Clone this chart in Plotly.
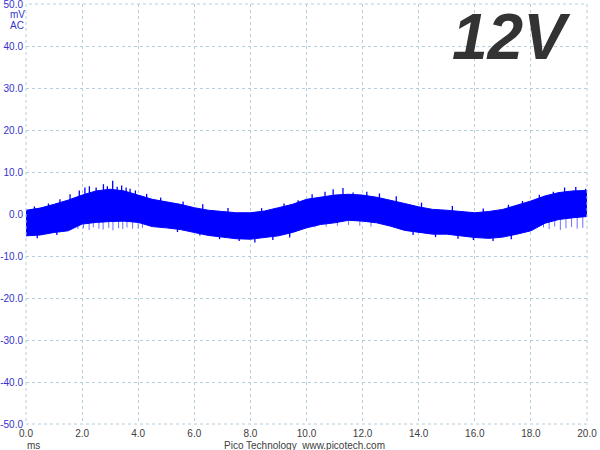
import plotly.graph_objects as go

# time axis (ms) of envelope samples
time_ms = [0.0, 0.5, 1.0, 1.5, 2.0, 2.5, 3.0, 3.5, 4.0, 4.5, 5.0, 5.5, 6.0, 6.5, 7.0, 7.5,
           8.0, 8.5, 9.0, 9.5, 10.0, 10.5, 11.0, 11.5, 12.0, 12.5, 13.0, 13.5, 14.0, 14.5,
           15.0, 15.5, 16.0, 16.5, 17.0, 17.5, 18.0, 18.5, 19.0, 19.5, 20.0]
# upper and lower envelope of the dense (solid) part of the signal, mV AC
upper_mv = [0.9, 1.4, 2.3, 3.3, 4.5, 5.5, 5.9, 5.5, 4.5, 3.5, 2.9, 2.3, 1.5, 0.9, 0.6, 0.3,
            0.3, 0.7, 1.5, 2.3, 3.5, 4.0, 4.5, 4.7, 4.5, 4.0, 3.3, 2.5, 1.7, 1.1,
            0.9, 0.6, 0.3, 0.6, 1.1, 2.1, 3.1, 4.3, 5.1, 5.5, 5.6]
lower_mv = [-5.2, -5.0, -4.4, -4.0, -2.4, -2.0, -1.8, -1.7, -2.0, -3.0, -3.3, -3.7, -4.4, -5.1,
            -5.5, -5.9, -6.0, -5.6, -5.2, -4.4, -3.3, -2.5, -2.1, -1.5, -1.7, -2.1, -2.9, -3.9,
            -4.4, -4.8, -4.8, -5.2, -5.6, -5.8, -5.5, -4.8, -4.0, -2.2, -1.3, -0.9, -0.6]

# isolated noise spikes (ms, mV)
upper_spike_t = [0.3, 0.8, 1.21, 1.57, 1.9, 2.1, 2.26, 2.5, 2.76, 2.9, 3.09, 3.25, 3.41, 3.57,
                 3.71, 3.9, 4.3, 4.8, 5.6, 6.3, 7.2, 8.4, 9.2, 9.7, 10.2, 10.66, 10.95, 11.3,
                 11.66, 12.15, 12.6, 13.2, 14.1, 15.2, 16.3, 17.2, 17.7, 18.3, 18.8, 19.2,
                 19.6, 19.95]
upper_spike_v = [1.8, 2.5, 3.5, 4.7, 5.6, 6.3, 6.6, 6.3, 7.1, 6.6, 7.9, 6.5, 6.8, 6.3,
                 6.0, 5.6, 4.8, 3.9, 3.0, 2.3, 1.4, 1.4, 2.5, 3.3, 4.7, 5.3, 5.9, 6.2,
                 5.1, 5.3, 4.9, 4.2, 2.7, 1.9, 1.3, 2.2, 3.1, 4.6, 5.3, 6.3,
                 6.4, 6.0]
lower_spike_t = [0.4, 1.1, 5.4, 6.2, 6.9, 7.6, 8.16, 8.8, 9.4, 13.8, 14.6, 15.4, 15.95, 16.65, 17.3]
lower_spike_v = [-5.8, -5.0, -4.3, -5.1, -6.0, -6.4, -6.8, -6.2, -5.6, -5.0, -5.5, -5.9, -6.2, -6.4, -6.0]
faint_spike_t = [1.85, 2.05, 2.25, 2.4, 2.6, 2.75, 2.95, 3.1, 3.3, 3.45, 3.6, 3.8, 4.0, 4.15,
                 10.3, 10.7, 11.1, 11.5, 11.9, 12.3,
                 18.45, 18.65, 18.85, 19.05, 19.25, 19.45, 19.65, 19.85]
faint_spike_v = [-3.6, -3.4, -3.8, -3.2, -3.5, -3.7, -3.3, -3.9, -3.4, -3.6, -3.2, -3.5, -3.4, -3.3,
                 -3.2, -3.0, -2.8, -2.6, -2.8, -3.0,
                 -3.2, -3.6, -3.0, -3.8, -3.4, -3.1, -3.5, -3.3]

x_ticks = [0, 2, 4, 6, 8, 10, 12, 14, 16, 18, 20]
x_tick_labels = ["0.0", "2.0", "4.0", "6.0", "8.0", "10.0", "12.0", "14.0", "16.0", "18.0", "20.0"]
y_ticks = [50, 40, 30, 20, 10, 0, -10, -20, -30, -40, -50]
y_tick_labels = ["50.0", "40.0", "30.0", "20.0", "10.0", "0.0", "-10.0", "-20.0", "-30.0", "-40.0", "-50.0"]

BLUE = "rgb(0,0,255)"
FAINT = "rgb(110,110,255)"
GRID = "#b4cfdc"


def spikes(ts, vs):
    xs, ys = [], []
    for t, v in zip(ts, vs):
        xs += [t, t, None]
        ys += [0, v, None]
    return xs, ys


fig = go.Figure()
fx, fy = spikes(faint_spike_t, faint_spike_v)
fig.add_trace(go.Scatter(x=fx, y=fy, mode="lines", line=dict(color=FAINT, width=1),
                         hoverinfo="skip"))
fig.add_trace(go.Scatter(x=time_ms, y=lower_mv, mode="lines",
                         line=dict(color=BLUE, width=1), hoverinfo="skip"))
fig.add_trace(go.Scatter(x=time_ms, y=upper_mv, mode="lines", fill="tonexty",
                         fillcolor=BLUE, line=dict(color=BLUE, width=1), hoverinfo="skip"))
ux, uy = spikes(upper_spike_t, upper_spike_v)
fig.add_trace(go.Scatter(x=ux, y=uy, mode="lines", line=dict(color=BLUE, width=1.3),
                         hoverinfo="skip"))
lx, ly = spikes(lower_spike_t, lower_spike_v)
fig.add_trace(go.Scatter(x=lx, y=ly, mode="lines", line=dict(color=BLUE, width=1.3),
                         hoverinfo="skip"))

fig.update_layout(
    width=600, height=450,
    margin=dict(l=26, r=13, t=4, b=26, autoexpand=False),
    paper_bgcolor="white", plot_bgcolor="white",
    showlegend=False,
    font=dict(family="Liberation Sans, Arial, sans-serif", size=10),
)
fig.update_xaxes(range=[0, 20], tickvals=x_ticks, ticktext=x_tick_labels, automargin=False,
                 showgrid=True, gridcolor=GRID, griddash="dot", gridwidth=1,
                 zeroline=False, showline=False, ticks="", ticklabelstandoff=2,
                 ticklabeloverflow="allow",
                 tickfont=dict(color="#404040", size=10))
fig.update_yaxes(range=[-50, 50], tickvals=y_ticks, ticktext=y_tick_labels, automargin=False,
                 showgrid=True, gridcolor=GRID, griddash="dot", gridwidth=1,
                 zeroline=False, showline=False, ticks="", ticklabelstandoff=2,
                 ticklabeloverflow="allow",
                 tickfont=dict(color="#3333cc", size=10))

# frame (dotted like the grid)
fig.add_shape(type="rect", xref="paper", yref="paper", x0=0, y0=0, x1=1, y1=1,
              line=dict(color=GRID, width=1, dash="dot"))

fig.add_annotation(text="mV", xref="paper", yref="paper", x=-0.016, y=0.974,
                   showarrow=False, xanchor="center", yanchor="middle",
                   font=dict(color="#3333cc", size=10))
fig.add_annotation(text="AC", xref="paper", yref="paper", x=-0.016, y=0.95,
                   showarrow=False, xanchor="center", yanchor="middle",
                   font=dict(color="#3333cc", size=10))
fig.add_annotation(text="ms", xref="paper", yref="paper", x=0.0125, y=-0.052,
                   showarrow=False, xanchor="center", yanchor="middle",
                   font=dict(color="#404040", size=10))
fig.add_annotation(text="Pico Technology  www.picotech.com", xref="paper", yref="paper",
                   x=0.497, y=-0.052, showarrow=False, xanchor="center", yanchor="middle",
                   font=dict(color="#404040", size=10))
fig.add_annotation(text="12V", xref="paper", yref="paper", x=0.963, y=0.915,
                   xshift=7, yshift=3,
                   showarrow=False, xanchor="right", yanchor="middle",
                   font=dict(color="#333333", size=64, weight="bold", style="italic",
                             family="Liberation Sans, Arial, sans-serif"))

fig.write_html("out.html", config={"displayModeBar": False},
               post_script="document.body.style.margin='0px';")
